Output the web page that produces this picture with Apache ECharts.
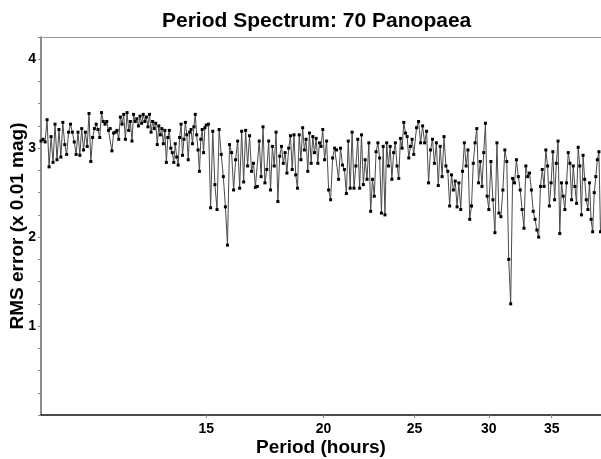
<!DOCTYPE html>
<html><head><meta charset="utf-8">
<script src="https://cdn.jsdelivr.net/npm/echarts@6/dist/echarts.min.js"></script>
<style>html,body{margin:0;padding:0;background:#fff}#chart{width:601px;height:459px}</style>
</head><body><div id="chart"></div>
<script>
const titleText = 'Period Spectrum: 70 Panopaea';
const xAxisName = 'Period (hours)';
const yAxisName = 'RMS error (x 0.01 mag)';
const xTickLabels = [15, 20, 25, 30, 35];
const periodRange = [10, 39.5];
const yRange = [0, 4.25];

const periods = [
10.00,10.05,10.10,10.15,10.20,10.25,10.30,10.35,10.40,10.45,10.50,10.55,10.60,10.65,10.70,10.75,10.80,10.85,10.90,10.95,
11.00,11.05,11.10,11.15,11.20,11.25,11.30,11.35,11.40,11.45,11.50,11.55,11.60,11.65,11.70,11.75,11.80,11.85,11.90,11.95,
12.00,12.05,12.10,12.15,12.20,12.25,12.30,12.35,12.40,12.45,12.50,12.55,12.60,12.65,12.70,12.75,12.80,12.85,12.90,12.95,
13.00,13.05,13.10,13.15,13.20,13.25,13.30,13.35,13.40,13.45,13.50,13.55,13.60,13.65,13.70,13.75,13.80,13.85,13.90,13.95,
14.00,14.05,14.10,14.15,14.20,14.25,14.30,14.35,14.40,14.45,14.50,14.55,14.60,14.65,14.70,14.75,14.80,14.85,14.90,14.95,15.00,
15.08,15.16,15.24,15.32,15.40,15.48,15.56,15.64,15.72,15.80,15.88,15.96,
16.04,16.12,16.20,16.28,16.36,16.44,16.52,16.60,16.68,16.76,16.84,16.92,17.00,17.08,17.16,17.24,17.32,17.40,17.48,17.56,
17.64,17.72,17.80,17.88,17.96,18.04,18.12,18.20,18.28,18.36,18.44,18.52,18.60,18.68,18.76,18.84,18.92,19.00,19.08,19.16,
19.24,19.32,19.40,19.48,19.56,19.64,19.72,19.80,19.88,19.96,
20.05,20.15,20.25,20.35,20.45,20.55,20.65,20.75,20.85,20.95,21.05,21.15,21.25,21.35,21.45,21.55,21.65,21.75,21.85,21.95,
22.05,22.15,22.25,22.35,22.45,22.55,22.65,22.75,22.85,22.95,23.05,23.15,23.25,23.35,23.45,23.55,23.65,23.75,23.85,23.95,
24.05,24.15,24.25,24.35,24.45,24.55,24.65,24.75,24.85,24.95,
25.125,25.25,25.375,25.5,25.625,25.75,25.875,26.0,26.125,26.25,26.375,26.5,26.625,26.75,26.875,27.0,27.125,27.25,27.375,27.5,
27.625,27.75,27.875,28.0,28.125,28.25,28.375,28.5,28.625,28.75,28.875,29.0,29.125,29.25,29.375,29.5,29.625,29.75,29.875,30.0,
30.15,30.30,30.45,30.60,30.75,30.90,31.05,31.20,31.35,31.50,31.65,31.80,31.95,32.10,32.25,32.40,32.55,32.70,32.85,33.00,
33.15,33.30,33.45,33.60,33.75,33.90,34.05,34.20,34.35,34.50,34.65,34.80,34.95,35.10,35.25,35.40,35.55,35.70,35.85,36.00,
36.15,36.30,36.45,36.60,36.75,36.90,37.05,37.20,37.35,37.50,37.65,37.80,37.95,38.10,38.25,38.40,38.55,38.70,38.85,39.00,
39.15,39.30,39.45
];

const rmsError = [
3.08,3.10,3.07,3.32,2.79,3.13,2.84,3.27,2.87,3.21,2.90,3.29,3.04,2.93,3.18,3.27,3.18,3.07,2.93,3.18,
2.92,3.22,2.98,3.18,3.02,3.39,2.85,3.12,3.22,3.27,3.21,3.12,3.40,3.30,3.27,3.30,3.20,3.22,2.97,3.17,
3.18,3.20,3.10,3.35,3.27,3.38,3.10,3.40,3.20,3.30,3.08,3.38,3.30,3.33,3.25,3.36,3.28,3.38,3.30,3.35,
3.24,3.38,3.18,3.30,3.22,3.28,3.04,3.25,3.15,3.22,3.05,3.20,2.84,3.12,3.20,3.00,2.95,2.84,3.05,2.90,
2.81,3.12,3.27,2.92,3.10,3.29,3.15,2.87,3.18,3.21,3.05,3.24,3.38,3.15,2.98,2.74,3.10,3.21,2.95,3.23,3.26,
3.27,2.33,3.19,2.59,2.31,3.21,2.93,2.68,2.34,1.91,3.04,2.95,
2.53,2.87,3.08,2.55,3.19,2.62,3.20,2.80,3.14,2.74,2.83,2.56,2.57,3.08,2.68,3.24,2.61,2.76,3.08,2.53,
3.02,2.80,3.18,2.40,2.91,3.02,2.83,2.95,2.72,3.00,3.14,2.76,3.15,2.70,2.55,3.15,2.87,3.23,2.98,3.10,
2.74,3.17,2.83,3.13,2.95,3.11,2.83,3.06,3.02,3.21,
2.87,3.08,2.53,2.42,2.89,3.00,2.98,2.65,3.00,2.81,2.76,2.49,3.08,2.55,3.18,2.55,2.80,3.10,2.55,3.15,
2.59,2.87,2.65,3.06,2.29,2.65,2.46,2.96,3.06,2.89,2.27,3.02,2.25,3.06,2.80,3.02,2.65,2.95,3.06,2.80,
2.66,3.11,3.00,3.29,3.17,3.13,2.89,3.02,3.10,2.93,
3.23,3.30,3.06,3.25,3.06,3.19,2.61,2.98,3.10,2.83,3.06,2.58,3.02,2.68,3.13,2.80,2.74,2.35,2.70,2.53,
2.63,2.34,2.61,2.31,2.74,3.06,2.80,2.98,2.20,2.35,2.83,3.06,3.22,2.61,2.85,2.57,2.95,3.28,2.46,2.31,
2.85,2.42,2.05,3.06,2.27,2.23,2.53,2.98,2.85,1.75,1.25,2.66,2.61,2.87,2.68,2.53,2.31,2.10,2.80,2.68,
2.72,2.53,2.29,2.20,2.08,2.00,2.57,2.76,2.57,2.98,2.80,2.35,2.61,2.96,2.42,2.83,3.08,2.04,2.61,2.46,
2.31,2.61,2.95,2.83,2.42,2.80,2.57,2.38,3.01,2.80,2.25,2.92,2.65,2.42,2.31,2.61,2.20,2.06,2.50,2.68,
2.87,2.96,2.06
];

const FONT = '"Liberation Sans", Arial, sans-serif';
const tickValues = xTickLabels.map(v => Math.log(v));
const seriesData = periods.map((p, i) => [Math.log(p), rmsError[i]]);

const chart = echarts.init(document.getElementById('chart'), null, {renderer: 'canvas'});
chart.setOption({
  animation: false,
  backgroundColor: '#ffffff',
  title: {
    text: titleText, left: 157, top: 6,
    textStyle: {fontFamily: FONT, fontSize: 21, fontWeight: 'bold', color: '#000'}
  },
  grid: {left: 41, right: 0, top: 37, bottom: 44, containLabel: false, outerBoundsMode: 'none'},
  xAxis: [{
    type: 'value',
    min: Math.log(periodRange[0]), max: Math.log(periodRange[1]),
    name: xAxisName, nameLocation: 'middle', nameGap: 23, nameMoveOverlap: false,
    nameTextStyle: {fontFamily: FONT, fontSize: 19, fontWeight: 'bold', color: '#000'},
    axisLine: {show: true, onZero: false, lineStyle: {color: '#111', width: 1.5}},
    axisTick: {show: true, customValues: tickValues, length: 3, inside: false, lineStyle: {color: '#888'}},
    axisLabel: {customValues: tickValues, formatter: v => String(Math.round(Math.exp(v))),
      fontFamily: FONT, fontSize: 14, fontWeight: 'bold', color: '#000', margin: 7},
    splitLine: {show: false}
  }, {
    type: 'value', position: 'top',
    min: Math.log(periodRange[0]), max: Math.log(periodRange[1]),
    axisLine: {show: true, onZero: false, lineStyle: {color: '#999', width: 1}},
    axisTick: {show: false}, axisLabel: {show: false}, splitLine: {show: false}
  }],
  yAxis: {
    type: 'value', min: yRange[0], max: yRange[1], interval: 0.25,
    name: yAxisName, nameLocation: 'middle', nameGap: 14, nameMoveOverlap: false,
    nameTextStyle: {fontFamily: FONT, fontSize: 19, fontWeight: 'bold', color: '#000'},
    axisLine: {show: true, lineStyle: {color: '#666', width: 1.5}},
    axisTick: {show: true, length: 3, lineStyle: {color: '#888'}},
    axisLabel: {
      formatter: v => (v > 0 && Math.abs(v - Math.round(v)) < 1e-9) ? String(Math.round(v)) : '',
      fontFamily: FONT, fontSize: 14, fontWeight: 'bold', color: '#000', margin: 5
    },
    splitLine: {show: false}
  },
  series: [{
    type: 'line',
    xAxisIndex: 0,
    data: seriesData,
    symbol: 'rect', symbolSize: 3, showSymbol: true, showAllSymbol: true,
    itemStyle: {color: '#000'},
    lineStyle: {color: '#4a4a4a', width: 1},
    emphasis: {disabled: true},
    z: 3
  }]
});
</script></body></html>
